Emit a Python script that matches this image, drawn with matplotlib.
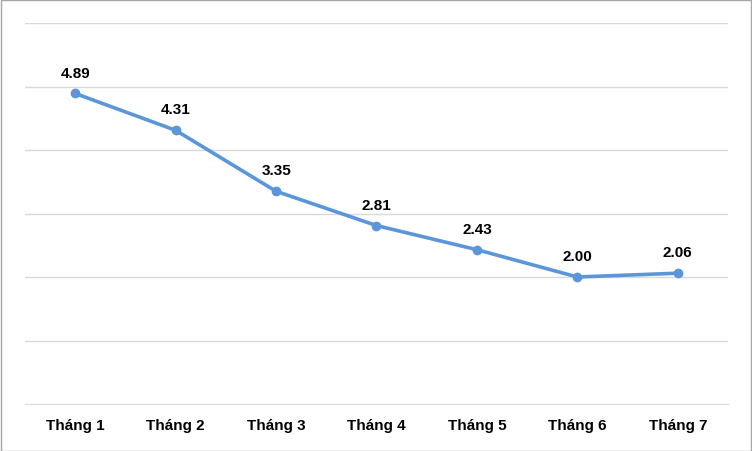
import matplotlib
matplotlib.use("Agg")
import matplotlib.pyplot as plt
from matplotlib.patches import Rectangle

categories = ["Tháng 1", "Tháng 2", "Tháng 3", "Tháng 4", "Tháng 5", "Tháng 6", "Tháng 7"]
values = [4.89, 4.31, 3.35, 2.81, 2.43, 2.00, 2.06]

plt.rcParams['font.family'] = ['Liberation Sans', 'DejaVu Sans']
fig = plt.figure(figsize=(7.52, 4.52), dpi=100)
ax = fig.add_axes([25/752, 1-405/452, 703/752, 381/452])
x = list(range(len(categories)))
ax.plot(x, values, color="#5B96DB", lw=2.6, marker="o", ms=6, solid_capstyle="round")
for xi, v in zip(x, values):
    ax.annotate(f"{v:.2f}", (xi, v), xytext=(0, 10), textcoords="offset points",
                ha="center", va="bottom", fontsize=11, fontweight="bold", color="#000000")
ax.set_ylim(0, 6)
ax.set_xlim(-0.5, len(categories)-0.5)
ax.set_yticks([1, 2, 3, 4, 5, 6])
ax.yaxis.grid(True, color="#D9D9D9", lw=1)
ax.set_axisbelow(True)
ax.tick_params(axis="y", left=False, labelleft=False)
ax.tick_params(axis="x", length=0, pad=10)
ax.set_xticks(x)
ax.set_xticklabels(categories, fontsize=11, fontweight="bold")
for s in ["top", "left", "right"]:
    ax.spines[s].set_visible(False)
ax.spines["bottom"].set_color("#D9D9D9")
fig.patches.append(Rectangle((0.001, 0.001), 0.998, 0.997, transform=fig.transFigure,
                             fill=False, edgecolor="#A6A6A6", lw=1))
fig.savefig("out.png", dpi=100)
